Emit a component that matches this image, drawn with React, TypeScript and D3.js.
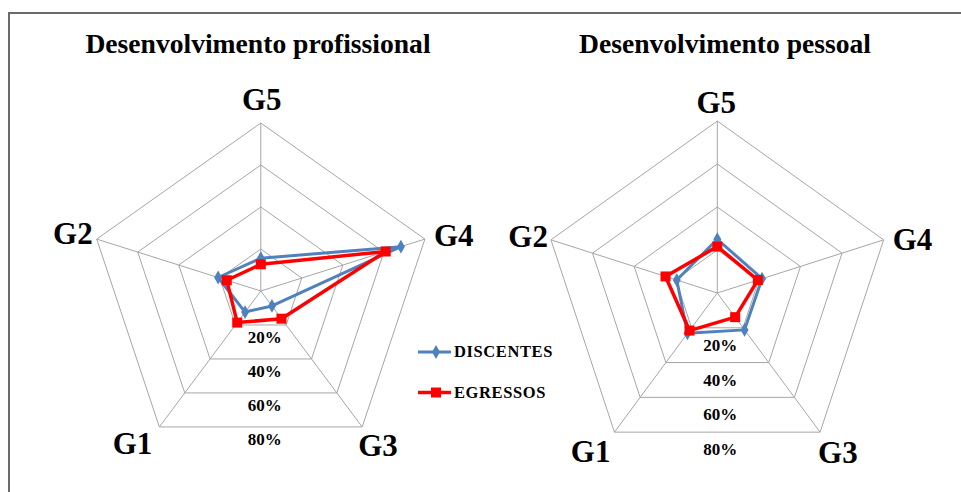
import React from "react";
import * as d3 from "d3";

// ---- data ----
const categories = ["G5", "G4", "G3", "G1", "G2"];
const seriesNames = ["DISCENTES", "EGRESSOS"];
const tickValues = [20, 40, 60, 80];
const tickLabels = ["20%", "40%", "60%", "80%"];
const chartTitles = ["Desenvolvimento profissional", "Desenvolvimento pessoal"];
// values in %, order matches categories
const profDiscentes = [15.6, 68.3, 8.8, 12.4, 20.8];
const profEgressos = [12.7, 60.9, 16.3, 18.6, 16.6];
const pessDiscentes = [25.0, 21.5, 21.2, 23.2, 19.5];
const pessEgressos = [21.6, 19.5, 13.9, 21.6, 24.9];

const seriesColors = ["#4F81BD", "#FF0000"];

type ChartCfg = {
  title: string;
  cx: number;
  cy: number;
  r: number;
  sx: number;
  titleX: number;
  tickDx: number;
  tickDy: number;
  labelOffsets: { dx: number; dy: number; anchor: string }[];
  series: number[][];
};

const charts: ChartCfg[] = [
  {
    title: chartTitles[0],
    cx: 260.8,
    cy: 291,
    r: 168,
    sx: 1.027,
    titleX: 258,
    tickDx: 4,
    tickDy: 18,
    labelOffsets: [
      { dx: 1, dy: -13, anchor: "middle" },
      { dx: 9, dy: 7, anchor: "start" },
      { dx: -4, dy: 29, anchor: "start" },
      { dx: -7, dy: 27, anchor: "end" },
      { dx: -4, dy: 5, anchor: "end" },
    ],
    series: [profDiscentes, profEgressos],
  },
  {
    title: chartTitles[1],
    cx: 717.3,
    cy: 293,
    r: 172,
    sx: 1.017,
    titleX: 725,
    tickDx: 3,
    tickDy: 23,
    labelOffsets: [
      { dx: -1, dy: -8, anchor: "middle" },
      { dx: 9, dy: 10, anchor: "start" },
      { dx: -2, dy: 31, anchor: "start" },
      { dx: -4, dy: 30, anchor: "end" },
      { dx: -3, dy: 7, anchor: "end" },
    ],
    series: [pessDiscentes, pessEgressos],
  },
];

const serif = "'Liberation Serif', 'Times New Roman', serif";

function Radar({ cfg }: { cfg: ChartCfg }) {
  const rScale = d3.scaleLinear().domain([0, 80]).range([0, cfg.r]);
  const angle = d3
    .scalePoint<string>()
    .domain(categories)
    .range([0, (2 * Math.PI * (categories.length - 1)) / categories.length]);
  const pt = (cat: string, v: number): [number, number] => {
    const a = angle(cat)!;
    const rr = rScale(v);
    return [cfg.cx + rr * Math.sin(a) * cfg.sx, cfg.cy - rr * Math.cos(a)];
  };
  const closed = d3.line<[number, number]>().curve(d3.curveLinearClosed);
  const symDiamond = d3.symbol().type(d3.symbolDiamond).size(55)();
  const bottomCos = Math.cos(Math.PI / 5);

  return (
    <g>
      <text
        x={cfg.titleX}
        y={53}
        textAnchor="middle"
        fontFamily={serif}
        fontWeight="bold"
        fontSize={27.6}
        fill="#000"
      >
        {cfg.title}
      </text>
      {tickValues.map((t) => (
        <path
          key={"ring" + t}
          d={closed(categories.map((c) => pt(c, t)))!}
          fill="none"
          stroke="#A6A6A6"
          strokeWidth={1}
        />
      ))}
      {categories.map((c) => {
        const [x, y] = pt(c, 80);
        return (
          <line
            key={"sp" + c}
            x1={cfg.cx}
            y1={cfg.cy}
            x2={x}
            y2={y}
            stroke="#A6A6A6"
            strokeWidth={1}
          />
        );
      })}
      {tickValues.map((t, i) => (
        <text
          key={"tl" + t}
          x={cfg.cx + cfg.tickDx}
          y={cfg.cy + rScale(t) * bottomCos + cfg.tickDy}
          textAnchor="middle"
          fontFamily={serif}
          fontWeight="bold"
          fontSize={17}
          fill="#000"
        >
          {tickLabels[i]}
        </text>
      ))}
      {categories.map((c, i) => {
        const [x, y] = pt(c, 80);
        const o = cfg.labelOffsets[i];
        return (
          <text
            key={"cl" + c}
            x={x + o.dx}
            y={y + o.dy}
            textAnchor={o.anchor as any}
            fontFamily={serif}
            fontWeight="bold"
            fontSize={31}
            fill="#000"
          >
            {c}
          </text>
        );
      })}
      {cfg.series.map((vals, si) => {
        const pts = categories.map((c, i) => pt(c, vals[i]));
        return (
          <g key={"s" + si}>
            <path
              d={closed(pts)!}
              fill="none"
              stroke={seriesColors[si]}
              strokeWidth={si === 0 ? 3 : 3.5}
              strokeLinejoin="round"
            />
            {pts.map(([x, y], k) =>
              si === 0 ? (
                <path
                  key={k}
                  d={symDiamond!}
                  transform={`translate(${x},${y})`}
                  fill={seriesColors[si]}
                />
              ) : (
                <rect
                  key={k}
                  x={x - 5}
                  y={y - 5}
                  width={10}
                  height={10}
                  fill={seriesColors[si]}
                />
              )
            )}
          </g>
        );
      })}
    </g>
  );
}

export default function App() {
  const W = 961;
  const H = 492;
  const legendY = [352, 392.5];
  const diamond = d3.symbol().type(d3.symbolDiamond).size(55)();
  return (
    <svg
      width={W}
      height={H}
      style={{ position: "absolute", left: 0, top: 0, background: "#fff" }}
    >
      <rect x={0} y={0} width={W} height={H} fill="#fff" />
      <path d={`M9,${H} V13 H${W}`} fill="none" stroke="#6b6b6b" strokeWidth={2} />
      {charts.map((c, i) => (
        <Radar key={i} cfg={c} />
      ))}
      {seriesNames.map((n, i) => (
        <g key={n}>
          <line
            x1={418}
            x2={451}
            y1={legendY[i]}
            y2={legendY[i]}
            stroke={seriesColors[i]}
            strokeWidth={i === 0 ? 3 : 3.5}
          />
          {i === 0 ? (
            <path d={diamond!} transform={`translate(436,${legendY[i]})`} fill={seriesColors[i]} />
          ) : (
            <rect x={431} y={legendY[i] - 5} width={10} height={10} fill={seriesColors[i]} />
          )}
          <text
            x={454}
            y={legendY[i] + 5}
            fontFamily={serif}
            fontWeight="bold"
            fontSize={16.5}
            letterSpacing={0.6}
            fill="#000"
          >
            {n}
          </text>
        </g>
      ))}
    </svg>
  );
}
